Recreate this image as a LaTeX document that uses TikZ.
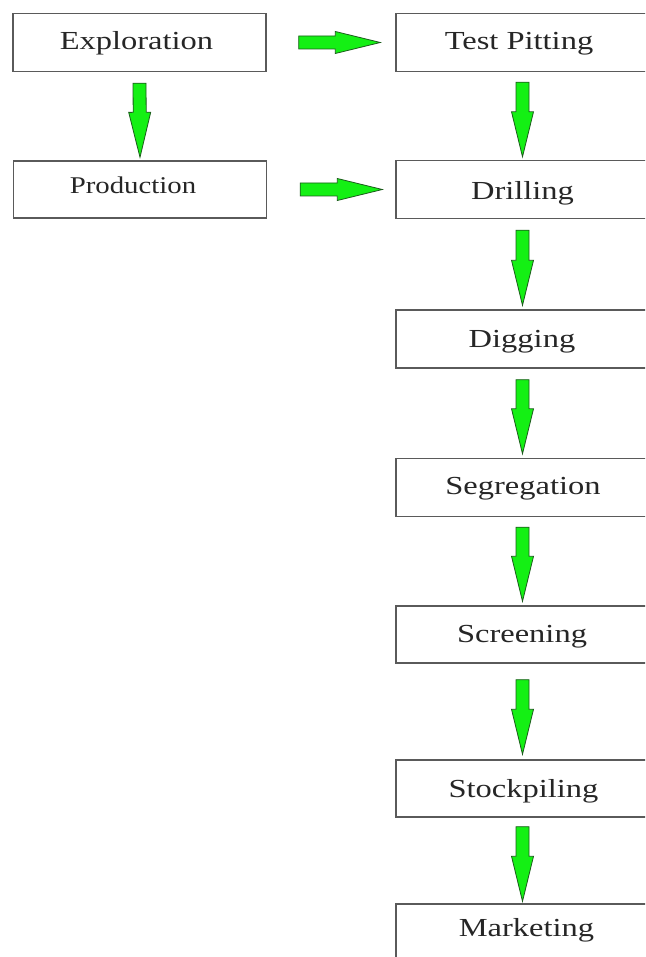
\documentclass[tikz,border=0pt]{standalone}
\usepackage{fontspec}
\usepackage{graphicx}
\setmainfont{Liberation Serif}
\usetikzlibrary{calc}
\definecolor{boxline}{HTML}{5A5A5A}
\definecolor{arrowfill}{HTML}{14F014}
\definecolor{arrowline}{HTML}{1C5C1C}
\tikzset{
  stepbox/.style={draw=boxline, line width=1.4pt, fill=white, rectangle,
    minimum width=253pt, minimum height=58pt, inner sep=0pt,
    font=\fontsize{26}{30}\selectfont, text=black!85,
    text height=16pt, text depth=0pt},
  fatarrowstyle/.style={fill=arrowfill, draw=arrowline, line width=0.8pt, line join=miter},
}
% wide label: horizontal stretch, optional horizontal offset (#2 = twice the shift)
\newcommand{\widelbl}[3][1.25]{\hspace*{#2}\scalebox{#1}[1]{#3}}
\newcommand{\fashaft}{6.5pt}
\newcommand{\fahalf}{11pt}
\newcommand{\fahead}{45pt}
\newcommand{\fatarrow}[2]{%
  \coordinate (fa-s) at #1;
  \coordinate (fa-t) at #2;
  \coordinate (fa-h) at ($(fa-t)!\fahead!(fa-s)$);
  \draw[fatarrowstyle] ($(fa-s)!\fashaft!90:(fa-t)$) -- ($(fa-h)!\fashaft!90:(fa-t)$)
    -- ($(fa-h)!\fahalf!90:(fa-t)$) -- (fa-t) -- ($(fa-h)!\fahalf!-90:(fa-t)$)
    -- ($(fa-h)!\fashaft!-90:(fa-t)$) -- ($(fa-s)!\fashaft!-90:(fa-t)$) -- cycle;
}
\begin{document}
\begin{tikzpicture}[x=1pt,y=-1pt]
  \useasboundingbox (0,0) rectangle (645,957);
  \clip (0,0) rectangle (645,957);
  \fill[white] (0,0) rectangle (645,957);
  % left column
  \node[stepbox, text height=15pt] (ex) at (139.5,42.5) {\widelbl{-6pt}{Exploration}};
  \node[stepbox, minimum height=57pt, font=\fontsize{24}{28}\selectfont, text height=8pt]
    (pr) at (140,189.5) {\widelbl[1.2]{-14pt}{Production}};
  % right column
  \node[stepbox, text height=15pt] (tp) at (522.5,42.5) {\widelbl{-7pt}{Test Pitting}};
  \node[stepbox, text height=20pt] (dr) at (522.5,189.5) {\widelbl{0pt}{Drilling}};
  \node[stepbox, text height=16pt] (dg) at (522.5,339) {\widelbl{-1pt}{Digging}};
  \node[stepbox, text height=13pt] (sg) at (522.5,487.5) {\widelbl{1pt}{Segregation}};
  \node[stepbox, minimum height=57pt, text height=15pt] (sc) at (522.5,634.5) {\widelbl{-1pt}{Screening}};
  \node[stepbox, minimum height=57pt, text height=17pt] (st) at (522.5,788.5) {\widelbl{2pt}{Stockpiling}};
  \node[stepbox, text height=6pt] (mk) at (522.5,933) {\widelbl{8pt}{Marketing}};
  % arrows
  \fatarrow{([xshift=32pt]ex.east)}{([xshift=-15pt]tp.west)}
  \fatarrow{([xshift=33pt]pr.east)}{([xshift=-13pt]dr.west)}
  \fatarrow{([yshift=-11pt]ex.south)}{([yshift=3pt]pr.north)}
  \fatarrow{([yshift=-10pt]tp.south)}{([yshift=3pt]dr.north)}
  \fatarrow{([yshift=-11pt]dr.south)}{([yshift=4pt]dg.north)}
  \fatarrow{([yshift=-11pt]dg.south)}{([yshift=4pt]sg.north)}
  \fatarrow{([yshift=-10pt]sg.south)}{([yshift=4pt]sc.north)}
  \fatarrow{([yshift=-16pt]sc.south)}{([yshift=5pt]st.north)}
  \fatarrow{([yshift=-9pt]st.south)}{([yshift=2pt]mk.north)}
\end{tikzpicture}
\end{document}
